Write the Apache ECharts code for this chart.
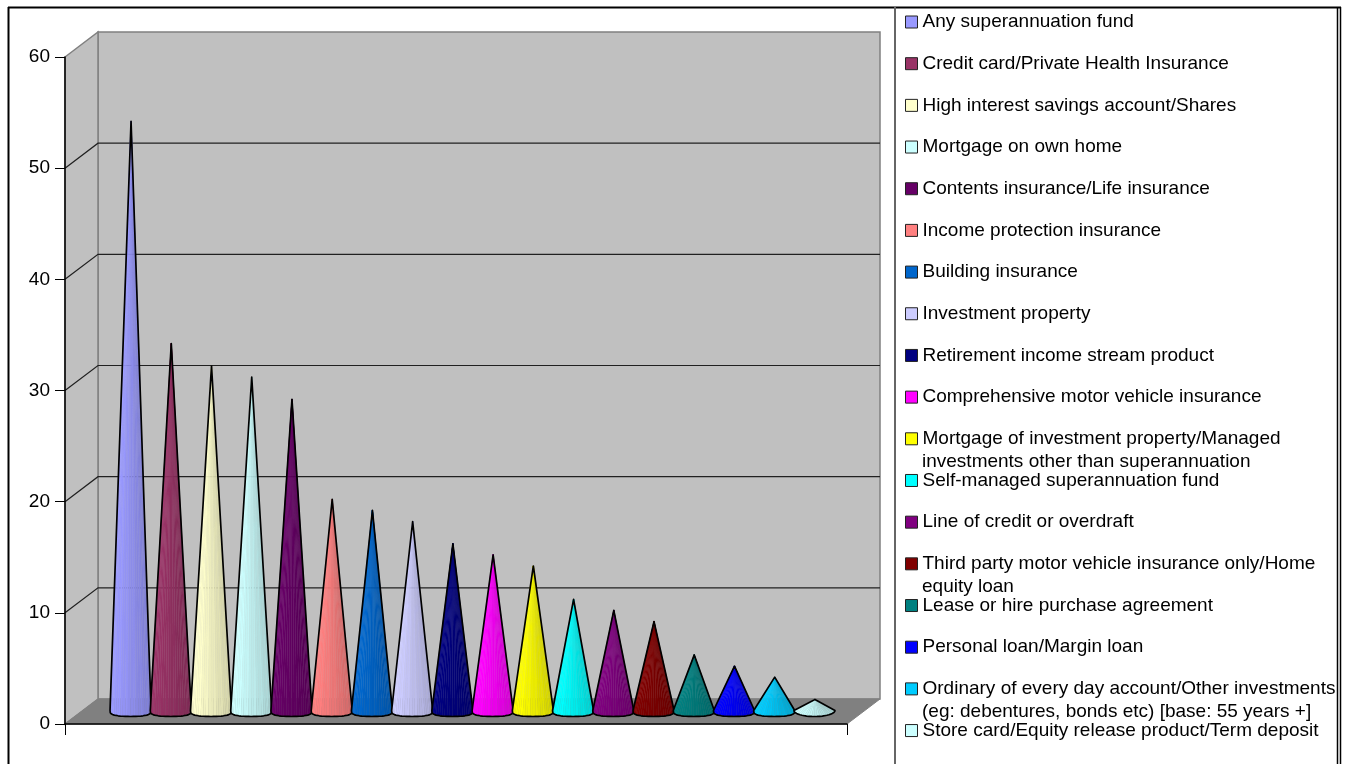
<!DOCTYPE html>
<html>
<head>
<meta charset="utf-8">
<style>html,body{margin:0;padding:0;background:#fff}#chart{width:1345px;height:764px}</style>
<script src="https://cdn.jsdelivr.net/npm/echarts@6/dist/echarts.min.js"></script>
</head>
<body>
<div id="chart"></div>
<script>
// Financial products held, one category with eighteen cone series.
const category = ['All products'];
const productNames = [
  'Any superannuation fund',
  'Credit card/Private Health Insurance',
  'High interest savings account/Shares',
  'Mortgage on own home',
  'Contents insurance/Life insurance',
  'Income protection insurance',
  'Building insurance',
  'Investment property',
  'Retirement income stream product',
  'Comprehensive motor vehicle insurance',
  'Mortgage of investment property/Managed\ninvestments other than superannuation',
  'Self-managed superannuation fund',
  'Line of credit or overdraft',
  'Third party motor vehicle insurance only/Home\nequity loan',
  'Lease or hire purchase agreement',
  'Personal loan/Margin loan',
  'Ordinary of every day account/Other investments\n(eg: debentures, bonds etc) [base: 55 years +]',
  'Store card/Equity release product/Term deposit'
];
const productValues = [53, 33, 31, 30, 28, 19, 18, 17, 15, 14, 13, 10, 9, 8, 5, 4, 3, 1];
const productColors = [
  '#9999FF', '#993366', '#FFFFCC', '#CCFFFF', '#660066', '#FF8080',
  '#0066CC', '#CCCCFF', '#000080', '#FF00FF', '#FFFF00', '#00FFFF',
  '#800080', '#800000', '#008080', '#0000FF', '#00CCFF', '#CCFFFF'
];
const yTicks = [0, 10, 20, 30, 40, 50, 60];

const FONT = '"Liberation Sans", Arial, sans-serif';
const DEPTH_X = 33, DEPTH_Y = -25;       // offset of the back wall from the front plane
const CONE_DX = 16.5, CONE_DY = -13.5;   // cones stand half way into the floor
const CLUSTER_SHARE = 0.926;             // share of the category band filled by the cones
const BASE_RY = 6;
const LEGEND_X = 905, LEGEND_Y = 22, LEGEND_STEP = 41.68, LEGEND_TEXT_X = 922, LINE_HEIGHT = 22.5;

function shade(hex, f) {
  const n = parseInt(hex.slice(1), 16);
  const c = [(n >> 16) & 255, (n >> 8) & 255, n & 255].map(v => Math.min(255, Math.round(v * f)));
  return 'rgb(' + c.join(',') + ')';
}

// Walls, floor and the gridlines that run across the back and side walls.
function renderWalls(params, api) {
  const o = api.coord([category[0], 0]);
  const band = api.size([1, 0])[0];
  const x0 = o[0] - band / 2, x1 = o[0] + band / 2;
  const top = api.coord([category[0], yTicks[yTicks.length - 1]])[1];
  const y0 = o[1];
  const wall = '#C0C0C0', edge = '#808080';
  const kids = [
    { type: 'polygon', shape: { points: [[x0 + DEPTH_X, top + DEPTH_Y], [x1 + DEPTH_X, top + DEPTH_Y], [x1 + DEPTH_X, y0 + DEPTH_Y], [x0 + DEPTH_X, y0 + DEPTH_Y]] },
      style: { fill: wall, stroke: edge, lineWidth: 1.5 } },
    { type: 'polygon', shape: { points: [[x0, top], [x0 + DEPTH_X, top + DEPTH_Y], [x0 + DEPTH_X, y0 + DEPTH_Y], [x0, y0]] },
      style: { fill: wall, stroke: edge, lineWidth: 1.5 } },
    { type: 'polygon', shape: { points: [[x0, y0], [x0 + DEPTH_X, y0 + DEPTH_Y], [x1 + DEPTH_X, y0 + DEPTH_Y], [x1, y0]] },
      style: { fill: '#808080', stroke: edge, lineWidth: 1 } }
  ];
  yTicks.slice(1, -1).forEach(v => {
    const y = api.coord([category[0], v])[1];
    kids.push({ type: 'polyline', shape: { points: [[x0, y], [x0 + DEPTH_X, y + DEPTH_Y], [x1 + DEPTH_X, y + DEPTH_Y]] },
      style: { fill: null, stroke: '#202020', lineWidth: 1.2 } });
  });
  return { type: 'group', children: kids };
}

// One cone: radial facets from the tip to the base rim, then a black outline.
function coneRenderer(index) {
  return function (params, api) {
    const p = api.coord([api.value(0), api.value(1)]);
    const band = api.size([1, 0])[0];
    const step = band * CLUSTER_SHARE / productNames.length;
    const rx = step * 0.51;
    const cx = p[0] + CONE_DX + (index - (productNames.length - 1) / 2) * step;
    const cy = api.coord([api.value(0), 0])[1] + CONE_DY;
    const tip = [cx + 0.5, p[1] + CONE_DY];
    const color = api.visual('color');
    const facets = 24, kids = [];
    // Taller cones show a flatter, squarer base rim; the lowest one a true ellipse.
    const rimPower = api.value(1) < 2 ? 1 : 0.55;
    const rim = k => {
      const a = Math.PI * (1 - k / facets);
      return [cx + rx * Math.cos(a), cy + BASE_RY * Math.pow(Math.max(0, Math.sin(a)), rimPower)];
    };
    for (let k = 0; k < facets; k++) {
      const a = rim(k), b = rim(k + 1);
      const t = (a[0] + b[0] - 2 * (cx - rx)) / (4 * rx);
      const f = 1.02 - 0.2 * t + (k % 3 === 1 ? 0.02 : 0);
      const fill = shade(color, f);
      kids.push({ type: 'polygon', shape: { points: [tip, a, b] }, style: { fill: fill, stroke: fill, lineWidth: 0.3 } });
    }
    const outline = [tip];
    for (let k = 0; k <= facets; k++) outline.push(rim(k));
    kids.push({ type: 'polygon', shape: { points: outline },
      style: { fill: null, stroke: '#000', lineWidth: 1.7, lineJoin: 'round' } });
    return { type: 'group', children: kids };
  };
}

const legendTop = i => LEGEND_Y + i * LEGEND_STEP - 9.5;

const legends = productNames.map((name, i) => ({
  data: [name],
  left: LEGEND_X,
  top: legendTop(i),
  padding: 0,
  orient: 'vertical',
  icon: 'rect',
  itemWidth: 12,
  itemHeight: 12,
  itemGap: 0,
  selectedMode: false,
  itemStyle: { borderColor: '#222', borderWidth: 1 },
  formatter: n => n.split('\n')[0],
  textStyle: { fontFamily: FONT, fontSize: 19, color: '#000', lineHeight: 19, padding: [0, 0, 0, 0] }
}));

// Second lines of the wrapped legend entries.
const wrappedLines = [];
productNames.forEach((name, i) => {
  const parts = name.split('\n');
  if (parts.length > 1) {
    wrappedLines.push({
      type: 'text', left: LEGEND_TEXT_X, top: legendTop(i) + LINE_HEIGHT,
      style: { text: parts[1], font: '19px ' + FONT, fill: '#000' }, z: 10
    });
  }
});

const frameLine = (x1, y1, x2, y2, stroke, w) => ({
  type: 'line', shape: { x1, y1, x2, y2 }, style: { stroke, lineWidth: w }, z: 20
});

const option = {
  animation: false,
  backgroundColor: '#fff',
  grid: { left: 65, right: 498, top: 57, bottom: 40 },
  xAxis: {
    type: 'category',
    data: category,
    z: 50,
    axisLine: { lineStyle: { color: '#000', width: 1.5 } },
    axisTick: { show: true, length: 11, lineStyle: { color: '#000', width: 1 } },
    axisLabel: { show: false },
    splitLine: { show: false }
  },
  yAxis: {
    type: 'value',
    min: 0,
    max: 60,
    interval: 10,
    z: 50,
    axisLine: { show: true, lineStyle: { color: '#000', width: 1.5 } },
    axisTick: { show: true, length: 10, lineStyle: { color: '#000', width: 1 } },
    axisLabel: { margin: 15, padding: [3, 0, 0, 0], fontFamily: FONT, fontSize: 19, color: '#000' },
    splitLine: { show: false }
  },
  legend: legends,
  graphic: [
    frameLine(8, 7.5, 1341, 7.5, '#000', 2),
    frameLine(8.5, 7, 8.5, 764, '#000', 2),
    frameLine(895, 7, 895, 764, '#666', 2),
    frameLine(1337.5, 7, 1337.5, 764, '#000', 1.5),
    frameLine(1340.5, 7, 1340.5, 764, '#000', 1.5)
  ].concat(wrappedLines),
  series: [
    { type: 'custom', name: 'walls', silent: true, z: 1, renderItem: renderWalls,
      encode: { x: 0, y: 1 }, data: [[category[0], 0]] }
  ].concat(productNames.map((name, i) => ({
    type: 'custom',
    name: name,
    z: 2 + i,
    itemStyle: { color: productColors[i] },
    renderItem: coneRenderer(i),
    encode: { x: 0, y: 1 },
    data: [[category[0], productValues[i]]]
  })))
};

echarts.init(document.getElementById('chart'), null, { renderer: 'canvas' }).setOption(option);
</script>
</body>
</html>
